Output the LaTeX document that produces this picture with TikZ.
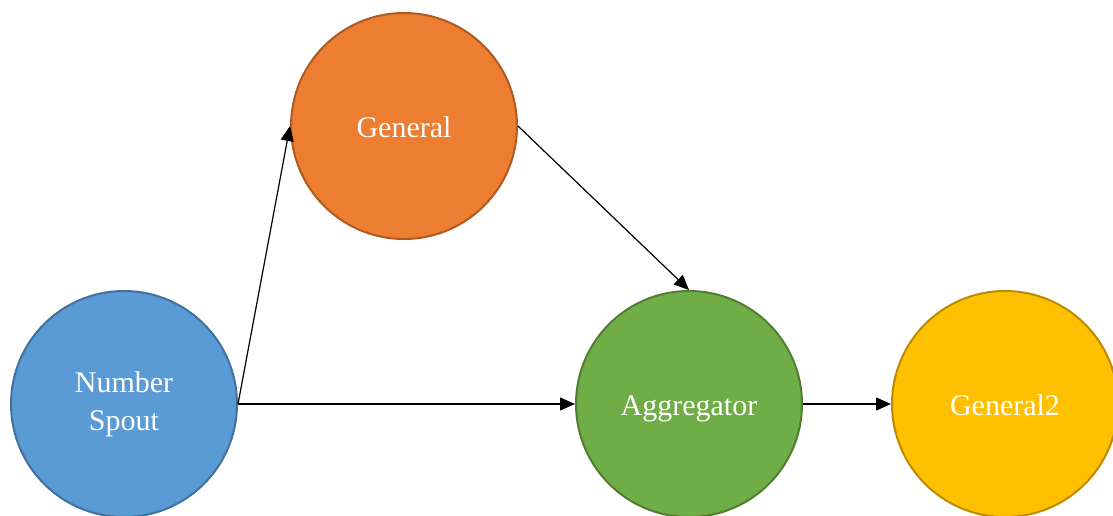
\documentclass[tikz,border=0pt]{standalone}
\usepackage{fontspec}
\setmainfont{Liberation Serif}
\usetikzlibrary{arrows.meta}
\definecolor{spoutfill}{HTML}{5B9BD5}
\definecolor{spoutline}{HTML}{41719C}
\definecolor{genfill}{HTML}{ED7D31}
\definecolor{genline}{HTML}{AE5A21}
\definecolor{aggfill}{HTML}{70AD47}
\definecolor{aggline}{HTML}{507E32}
\definecolor{gentwofill}{HTML}{FFC000}
\definecolor{gentwoline}{HTML}{BC8C00}
\tikzset{
  bolt/.style={circle, minimum size=226pt, inner sep=0pt, line width=2pt,
    text=white, align=center,
    font=\fontsize{30pt}{38pt}\selectfont},
  oneline/.style={text height=22pt, text depth=0pt},
  flow/.style={draw=black, line width=1.2pt,
    -{Triangle[length=15pt,width=13pt]}}
}
\begin{document}
\begin{tikzpicture}[x=1pt,y=1pt]
  \useasboundingbox (0,0) rectangle (1113,-515);
  \clip (0,0) rectangle (1113,-515);
  \node[bolt, fill=spoutfill, draw=spoutline] (spout) at (124,-404) {Number\\Spout};
  \node[bolt, oneline, fill=genfill, draw=genline] (general) at (404,-126) {General};
  \node[bolt, oneline, fill=aggfill, draw=aggline] (agg) at (689,-404) {Aggregator};
  \node[bolt, oneline, fill=gentwofill, draw=gentwoline] (general2) at (1005,-404) {General2};
  \draw[flow] (spout.east) -- (general.west);
  \draw[flow] (spout.east) -- (agg.west);
  \draw[flow] (general.east) -- (agg.north);
  \draw[flow] (agg.east) -- (general2.west);
\end{tikzpicture}
\end{document}
